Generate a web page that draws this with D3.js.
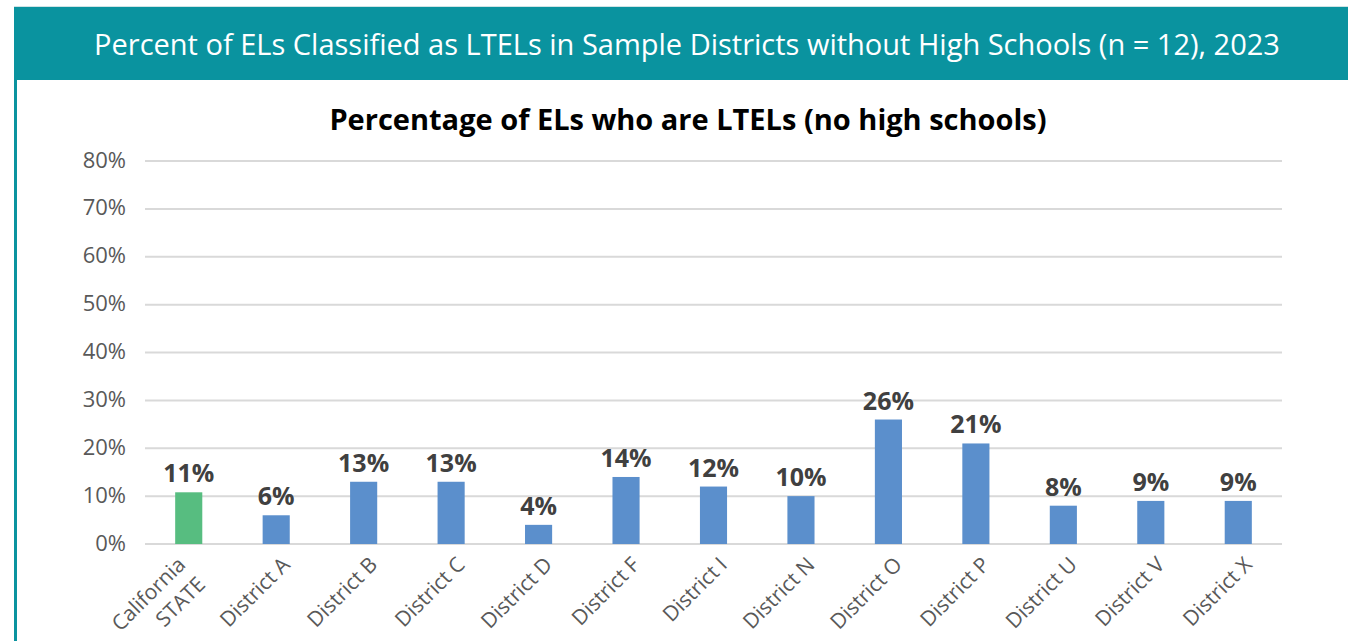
<!DOCTYPE html>
<html lang="en">
<head>
<meta charset="utf-8">
<title>LTEL chart</title>
<script src="https://cdn.jsdelivr.net/npm/d3@7"></script>
<style>
  body { margin: 0; background: #fff; font-family: "Open Sans", "Noto Sans", sans-serif; }
</style>
</head>
<body>
<script>
// chart data
var categories = ["California\nSTATE", "District A", "District B", "District C", "District D", "District F",
                  "District I", "District N", "District O", "District P", "District U", "District V", "District X"];
var values = [10.8, 6, 13, 13, 4, 14, 12, 10, 26, 21, 8, 9, 9];
var valueLabels = ["11%", "6%", "13%", "13%", "4%", "14%", "12%", "10%", "26%", "21%", "8%", "9%", "9%"];
var yTicks = [0, 10, 20, 30, 40, 50, 60, 70, 80];

var w = 1348, h = 641;
var svg = d3.select("body").append("svg").attr("width", w).attr("height", h);

// header band
svg.append("line").attr("x1", 14).attr("x2", w).attr("y1", 6.5).attr("y2", 6.5)
  .attr("stroke", "#cfe3e5").attr("stroke-width", 1);
svg.append("rect").attr("x", 14).attr("y", 7).attr("width", w - 14).attr("height", 73).attr("fill", "#0a939f");
svg.append("rect").attr("x", 14).attr("y", 80).attr("width", 3).attr("height", h - 80).attr("fill", "#0a939f");
svg.append("text").attr("x", 687).attr("y", 55).attr("text-anchor", "middle")
  .attr("fill", "#fff").attr("font-size", 29)
  .text("Percent of ELs Classified as LTELs in Sample Districts without High Schools (n = 12), 2023");

// chart title
svg.append("text").attr("x", 688).attr("y", 130).attr("text-anchor", "middle")
  .attr("fill", "#000").attr("font-size", 29).attr("font-weight", "bold")
  .text("Percentage of ELs who are LTELs (no high schools)");

var plotLeft = 145, plotRight = 1282, plotTop = 161, plotBottom = 544;

var x = d3.scaleBand().domain(categories).range([plotLeft, plotRight]).paddingInner(0.69).paddingOuter(0.345);
var y = d3.scaleLinear().domain([0, 80]).range([plotBottom, plotTop]);

// gridlines
svg.append("g").selectAll("line").data(yTicks).enter().append("line")
  .attr("x1", plotLeft).attr("x2", plotRight)
  .attr("y1", function(d) { return y(d); }).attr("y2", function(d) { return y(d); })
  .attr("stroke", "#d9d9d9").attr("stroke-width", 2);

// y tick labels
svg.append("g").selectAll("text").data(yTicks).enter().append("text")
  .attr("x", 126).attr("y", function(d) { return y(d) + 6.5; })
  .attr("text-anchor", "end").attr("fill", "#595959").attr("font-size", 22)
  .text(function(d) { return d + "%"; });

// bars
svg.append("g").selectAll("rect").data(values).enter().append("rect")
  .attr("x", function(d, i) { return x(categories[i]); })
  .attr("y", function(d) { return y(d); })
  .attr("width", x.bandwidth())
  .attr("height", function(d) { return plotBottom - y(d); })
  .attr("fill", function(d, i) { return i == 0 ? "#57bd80" : "#5b8fcc"; });

// value labels
svg.append("g").selectAll("text").data(values).enter().append("text")
  .attr("x", function(d, i) { return x(categories[i]) + x.bandwidth() / 2; })
  .attr("y", function(d) { return y(d) - 10; })
  .attr("text-anchor", "middle").attr("fill", "#404040")
  .attr("font-size", 25).attr("font-weight", "bold")
  .text(function(d, i) { return valueLabels[i]; });

// category labels, rotated
var cat = svg.append("g").selectAll("text").data(categories).enter().append("text")
  .attr("text-anchor", "end").attr("fill", "#595959").attr("font-size", 21)
  .attr("transform", function(d) {
    var cx = x(d) + x.bandwidth() / 2;
    // two-line labels start a bit further left
    var dx = d.indexOf("\n") >= 0 ? -2 : 15;
    return "translate(" + (cx + dx) + ",566) rotate(-45)";
  });
cat.each(function(d) {
  var t = d3.select(this);
  d.split("\n").forEach(function(l, j) {
    t.append("tspan").attr("x", 0).attr("dy", j == 0 ? 0 : 28).text(l);
  });
});
</script>
</body>
</html>
